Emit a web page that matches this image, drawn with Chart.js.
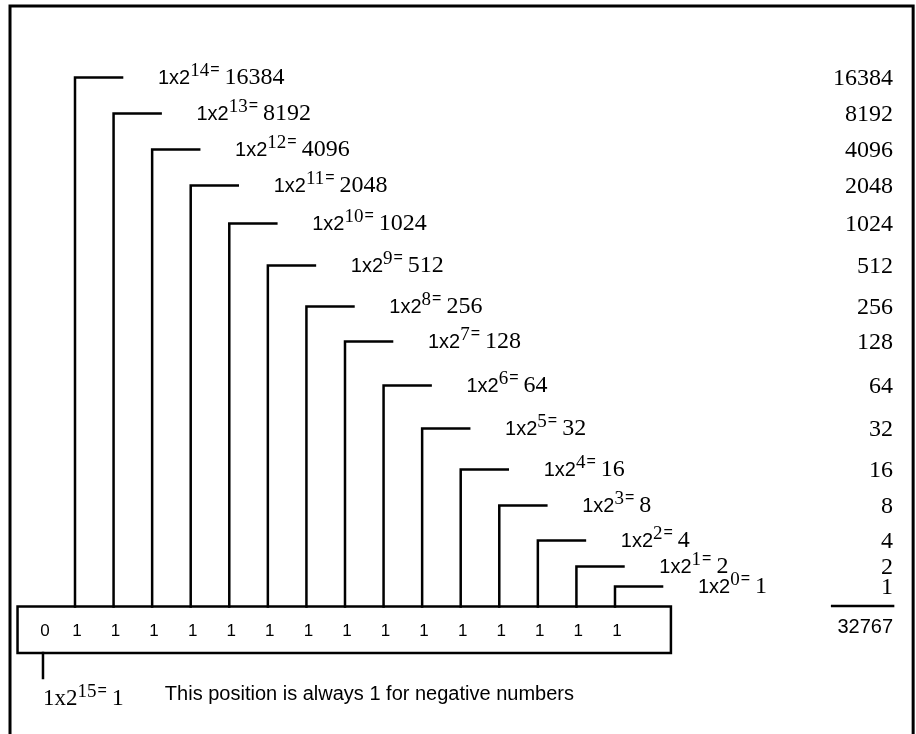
<!DOCTYPE html>
<html>
<head>
<meta charset="utf-8">
<script src="https://cdn.jsdelivr.net/npm/chart.js@4.4.0/dist/chart.umd.min.js"></script>
<style>
  html, body { margin: 0; padding: 0; background: #fff; }
  canvas { display: block; }
</style>
</head>
<body>
<canvas id="binaryChart" width="916" height="734"></canvas>
<script>
// Bits of the number, from the sign bit (15) down to bit 0
const bitPositions = [15, 14, 13, 12, 11, 10, 9, 8, 7, 6, 5, 4, 3, 2, 1, 0];
const bitDigits = [0, 1, 1, 1, 1, 1, 1, 1, 1, 1, 1, 1, 1, 1, 1, 1];

// Value bits (14 .. 0), their place values and the height of each step
const valueBits = [14, 13, 12, 11, 10, 9, 8, 7, 6, 5, 4, 3, 2, 1, 0];
const placeValues = [16384, 8192, 4096, 2048, 1024, 512, 256, 128, 64, 32, 16, 8, 4, 2, 1];
const stepHeights = [529, 493, 457, 421, 383, 341, 300, 265, 221, 178, 137, 101, 66, 40, 20];

const total = placeValues.reduce((a, b) => a + b, 0);
const signNote = "This position is always 1 for negative numbers";

// Layout (in axis units: x = bit column, y = height above the box)
const signColumn = 0.17;
const boxLeft = -0.49, boxRight = 16.45, boxBottom = -46.5;
const frameLeft = -0.685, frameRight = 22.73, frameTop = 600.5;
const armLength = 1.22;
const labelOffset = 2.15;
const valueColumn = 22.21;

const black = "#000";
const col = (bit) => 15 - bit;

const datasets = [];

// Outer frame (open at the bottom)
datasets.push({
  data: [
    { x: frameLeft, y: -140 },
    { x: frameLeft, y: frameTop },
    { x: frameRight, y: frameTop },
    { x: frameRight, y: -140 },
  ],
  borderWidth: 3,
});

// Register box
datasets.push({
  data: [
    { x: boxLeft, y: 0 },
    { x: boxRight, y: 0 },
    { x: boxRight, y: boxBottom },
    { x: boxLeft, y: boxBottom },
    { x: boxLeft, y: 0 },
  ],
  borderWidth: 2.5,
});

// One step for each value bit
valueBits.forEach((bit, i) => {
  datasets.push({
    data: [
      { x: col(bit), y: 0 },
      { x: col(bit), y: stepHeights[i] },
      { x: col(bit) + armLength, y: stepHeights[i] },
    ],
    borderWidth: 2.5,
  });
});

// Sign bit tick below the box
datasets.push({
  data: [
    { x: signColumn, y: boxBottom },
    { x: signColumn, y: boxBottom - 25 },
  ],
  borderWidth: 2.5,
});

// Sum line above the total
datasets.push({
  data: [
    { x: 20.63, y: 0.5 },
    { x: valueColumn, y: 0.5 },
  ],
  borderWidth: 2.5,
});

datasets.forEach((d) => {
  d.showLine = true;
  d.pointRadius = 0;
  d.borderColor = black;
  d.fill = false;
  d.tension = 0;
  d.borderCapStyle = "square";
  d.borderJoinStyle = "miter";
});

const SANS = '"Liberation Sans", Arial, sans-serif';
const SERIF = '"Liberation Serif", "Times New Roman", serif';

function drawRuns(ctx, x0, y0, runs) {
  let cx = x0;
  runs.forEach((r) => {
    ctx.font = r.font;
    ctx.fillText(r.t, cx, y0 - (r.raise || 0));
    cx += ctx.measureText(r.t).width + (r.gap || 0);
  });
}

function powerRuns(exp, value, baseFont) {
  return [
    { t: "1x2", font: baseFont, gap: 0 },
    { t: String(exp), font: "19px " + SERIF, raise: 8, gap: 1 },
    { t: "=", font: "16px " + SANS, raise: 10, gap: 5 },
    { t: String(value), font: "24px " + SERIF },
  ];
}

const textPlugin = {
  id: "diagramText",
  afterDatasetsDraw(chart) {
    const { ctx, scales: { x, y } } = chart;
    ctx.save();
    ctx.fillStyle = black;
    ctx.textBaseline = "alphabetic";

    // Step labels and right column
    valueBits.forEach((bit, i) => {
      const base = y.getPixelForValue(stepHeights[i] - 6);
      ctx.textAlign = "left";
      drawRuns(ctx, x.getPixelForValue(col(bit) + labelOffset), base,
        powerRuns(bit, placeValues[i], "20px " + SANS));
      ctx.textAlign = "right";
      ctx.font = "24px " + SERIF;
      ctx.fillText(String(placeValues[i]), x.getPixelForValue(valueColumn), base + 1);
    });

    // Bits inside the box
    ctx.textAlign = "center";
    ctx.font = "17px " + SANS;
    bitPositions.forEach((bit, i) => {
      const c = bit === 15 ? signColumn + 0.05 : col(bit) + 0.05;
      ctx.fillText(String(bitDigits[i]), x.getPixelForValue(c), y.getPixelForValue(-29.5));
    });

    // Total
    ctx.textAlign = "right";
    ctx.font = "20px " + SANS;
    ctx.fillText(String(total), x.getPixelForValue(valueColumn), y.getPixelForValue(-26.5));

    // Sign bit label and note
    ctx.textAlign = "left";
    drawRuns(ctx, x.getPixelForValue(signColumn), y.getPixelForValue(-98.5),
      powerRuns(15, 1, "23px " + SERIF));
    ctx.font = "20px " + SANS;
    ctx.fillText(signNote, x.getPixelForValue(3.33), y.getPixelForValue(-93.5));

    ctx.restore();
  },
};

new Chart(document.getElementById("binaryChart"), {
  type: "scatter",
  data: { datasets: datasets },
  options: {
    responsive: false,
    animation: false,
    events: [],
    layout: { padding: 0 },
    scales: {
      x: { type: "linear", min: -0.9445, max: 22.804, display: false },
      y: { type: "linear", min: -127.5, max: 606.5, display: false },
    },
    plugins: {
      legend: { display: false },
      tooltip: { enabled: false },
    },
  },
  plugins: [textPlugin],
});
</script>
</body>
</html>
